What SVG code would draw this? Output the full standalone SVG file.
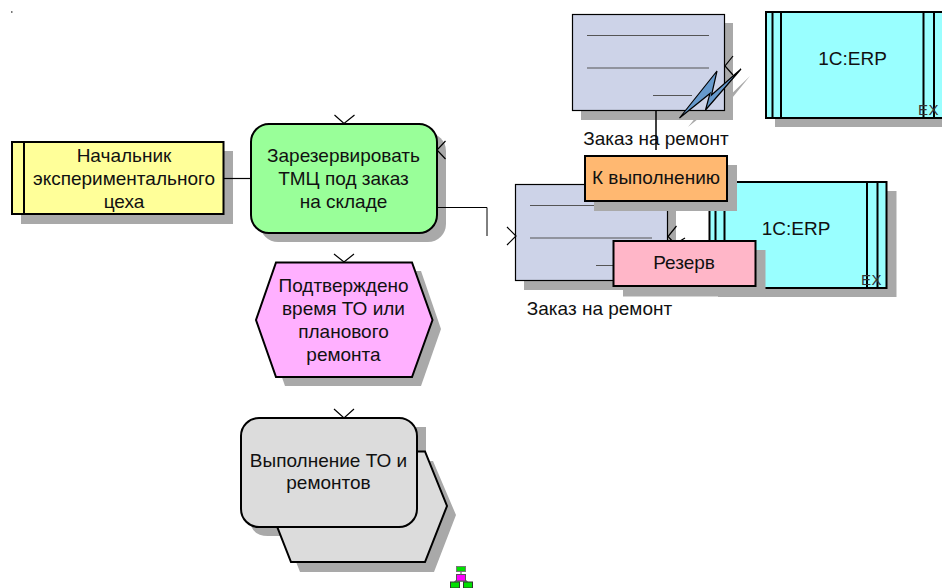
<svg xmlns="http://www.w3.org/2000/svg" width="942" height="588" viewBox="0 0 942 588">
<style>
text{font-family:"Liberation Sans",Arial,sans-serif;font-size:19px;fill:#111;text-anchor:middle}
.s{fill:#a9a9a9;stroke:none}
.n{stroke:#000;stroke-width:2}
.l{fill:none;stroke:#000;stroke-width:1}
.t{fill:none;stroke:#555;stroke-width:1.2}
.m{fill:none;stroke:#000;stroke-width:1.2}
.doc{fill:#cdd3e8;stroke:#000;stroke-width:1.2}
.erp{fill:#99ffff}
.ex{font-size:15px;letter-spacing:0.5px;fill:#333}
</style>
<rect width="942" height="588" fill="#fff"/>
<g id="tick"><rect x="11" y="11" width="1.5" height="2" fill="#777"/></g>
<g id="n-erp1">
<rect class="s" x="775" y="21" width="167" height="106"/>
<rect class="erp n" x="766" y="12" width="180" height="106"/>
<path class="n" d="M772.500 12V118M781 12V118M923.500 12V118M934 12V118"/>
<text x="852.500" y="65">1C:ERP</text>
<text class="ex" x="928.500" y="115">EX</text>
</g>
<g id="n-doc1">
<rect class="s" x="581" y="23" width="152" height="97"/>
<path d="M688 127L726 80L721 104L750 76L715 119L719 102Z" class="s"/>
<rect class="doc" x="572.500" y="14.500" width="152" height="96"/>
<path class="t" d="M587 35.500H709M587 68H709M653 95.500H692"/>
<path class="m" d="M733 56L725 66L733 75"/>
<path d="M679.500 118L717 71L711.500 95L741 69L705.500 110L710 93.500Z" fill="#6699cc" stroke="#000" stroke-width="1.200"/>
<text x="656" y="145">Заказ на ремонт</text>
</g>
<g id="n-erp2">
<rect class="s" x="718" y="191" width="178.500" height="106"/>
<rect class="erp n" x="709.500" y="182" width="177" height="106"/>
<path class="n" d="M715.500 182V288M724.500 182V288M867 182V288M877.500 182V288"/>
<text x="796" y="235">1C:ERP</text>
<text class="ex" x="871.500" y="285">EX</text>
</g>
<g id="n-doc2">
<rect class="s" x="524" y="193" width="152" height="97"/>
<rect class="doc" x="515.500" y="184.500" width="152" height="96"/>
<path class="t" d="M530 205.500H652M530 238H652M596 265.500H635"/>
<path class="m" d="M507 227L516 236L507 245"/>
<path class="m" d="M676.500 226L668 236.500L676 245"/>
<path class="m" d="M680 241L685 238"/>
<text x="599.500" y="315">Заказ на ремонт</text>
</g>
<g id="n-orange">
<rect class="s" x="594" y="165" width="143" height="46"/>
<rect class="n" x="585" y="156" width="142" height="45" fill="#ffb871"/>
<text x="656" y="184">К выполнению</text>
</g>
<g id="n-pink">
<rect class="s" x="623" y="250" width="142.500" height="46.500"/>
<rect class="n" x="613.500" y="241" width="142" height="45" fill="#ffb6c8"/>
<text x="684" y="269">Резерв</text>
</g>
<g id="n-role">
<rect class="s" x="21" y="151" width="212" height="73"/>
<rect class="n" x="12" y="142" width="211.500" height="72" fill="#ffff99"/>
<path class="n" d="M24 142V214"/>
<text x="124" y="161.500">Начальник</text>
<text x="124" y="185">экспериментального</text>
<text x="124" y="207.500">цеха</text>
</g>
<g id="n-func">
<rect class="s" x="260" y="133" width="186" height="109" rx="18"/>
<rect class="n" x="251" y="124" width="186" height="109" rx="18" fill="#99ff99"/>
<path class="m" d="M334.500 115L344 123.500L354.500 115"/>
<path class="m" d="M445.500 141L437 150L445.500 159"/>
<text x="343.500" y="161.500">Зарезервировать</text>
<text x="343.500" y="185">ТМЦ под заказ</text>
<text x="343.500" y="207.500">на складе</text>
</g>
<g id="n-event">
<path class="s" d="M285 271H421L441 329L421 386H285L265 329Z"/>
<path class="n" d="M276 262.500H412L432.500 320L412 377H276L256 320Z" fill="#ffb0ff"/>
<path class="m" d="M334 254L344 262L354 254"/>
<text x="343.500" y="292">Подтверждено</text>
<text x="343.500" y="315">время ТО или</text>
<text x="343.500" y="338">планового</text>
<text x="343.500" y="361">ремонта</text>
</g>
<g id="n-process">
<path class="s" d="M260 427H426V461H433L456 515L434 572H300L286 536H268Q250 536 250 518Z"/>
<path class="n" d="M300 451.500H425L447 506L425 562H291L269 506Z" fill="#dcdcdc"/>
<rect class="n" x="241" y="418" width="176" height="109" rx="18" fill="#dcdcdc"/>
<path class="m" d="M334 409L344 418L354 409"/>
<text x="328.500" y="467">Выполнение ТО и</text>
<text x="328.500" y="489">ремонтов</text>
</g>
<g id="n-hierarchy">
<rect x="456.500" y="566.500" width="9" height="5" fill="#00e000" stroke="#777" stroke-width="1"/>
<path d="M461 572V576M455 588V581H467V588" fill="none" stroke="#444" stroke-width="1"/>
<rect x="456.500" y="574.500" width="9" height="6.500" fill="#ff00ff" stroke="#555" stroke-width="1"/>
<rect x="450.500" y="582" width="9" height="6" fill="#00e000" stroke="#333" stroke-width="1"/>
<rect x="463.500" y="582" width="9" height="6" fill="#00e000" stroke="#333" stroke-width="1"/>
</g>
<g id="connectors">
<path class="m" d="M224 178.500H251"/>
<path class="l" d="M437 207.500H487V236"/>
<path fill="none" stroke="#000" stroke-width="1.500" d="M656 110V150"/>
</g>
</svg>
